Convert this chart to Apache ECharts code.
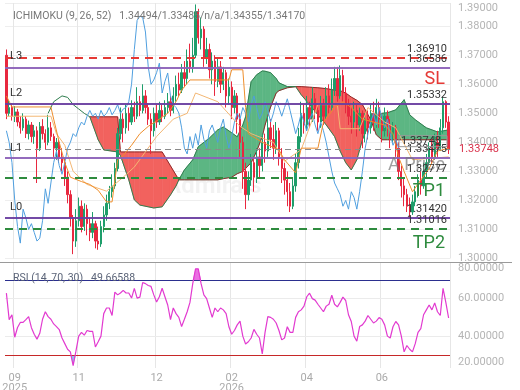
<!DOCTYPE html>
<html>
<head>
<meta charset="utf-8">
<script src="https://cdn.jsdelivr.net/npm/echarts@6/dist/echarts.min.js"></script>
<style>
  html, body { margin: 0; padding: 0; background: #fff; }
  #main { width: 520px; height: 390px; }
</style>
</head>
<body>
<div id="main"></div>
<script>
// all prices are kept in pips above 1.30000
const BASE = 1.3;
const price = v => +(BASE + v / 10000).toFixed(5);

// x axis: candle index -> month label
const tickIdx = [3, 26, 54, 81, 108, 135];
const tickText = ['09\n2025', '11', '12', '02\n2026', '04', '06'];

// candles [open, close, low, high]
const candles = [
  [700,500,480,720],[500,520,490,545],[520,490,475,535],[490,505,470,525],[505,470,455,515],
  [470,450,430,490],[450,480,440,500],[480,430,415,490],[430,460,410,475],[460,420,400,470],
  [420,440,395,460],[440,380,260,455],[380,455,370,470],[455,430,410,480],[430,400,375,445],
  [400,450,390,495],[450,420,405,470],[420,380,350,430],[380,400,340,415],[400,350,330,410],
  [350,330,300,380],[330,280,250,345],[280,220,190,300],[220,140,110,235],[140,60,15,150],
  [60,130,40,170],[130,180,110,210],[180,110,90,200],[110,170,95,190],[170,120,80,185],
  [120,90,60,140],[90,120,70,160],[120,60,35,130],[60,50,30,110],[50,110,40,130],
  [110,150,90,180],[150,190,130,220],[190,230,170,250],[230,250,210,290],[250,310,240,330],
  [310,430,300,450],[430,480,410,520],[480,450,400,500],[450,500,430,530],[500,470,440,520],
  [470,520,460,545],[520,490,470,540],[490,540,480,590],[540,510,490,560],[510,560,500,600],
  [560,520,500,580],[520,480,460,535],[480,440,360,500],[440,500,420,520],[500,470,450,530],
  [470,510,460,540],[510,490,470,530],[490,520,480,545],[520,540,500,570],[540,510,490,560],
  [510,560,500,590],[560,600,540,630],[600,580,560,640],[580,640,570,670],[640,620,590,680],
  [620,680,600,720],[680,660,640,740],[660,700,640,760],[700,850,690,875],[850,760,740,860],
  [760,790,720,830],[790,690,660,800],[690,720,670,760],[720,650,620,740],[650,680,600,710],
  [680,610,560,700],[610,660,590,690],[660,600,570,680],[600,640,580,660],[640,560,520,650],
  [560,590,530,620],[590,520,480,610],[520,560,500,580],[560,480,430,570],[480,400,350,500],
  [400,300,240,420],[300,220,170,330],[220,270,200,300],[270,330,250,360],[330,280,230,350],
  [280,350,260,380],[350,320,280,380],[320,400,300,430],[400,370,330,430],[370,450,350,490],
  [450,410,380,480],[410,380,340,460],[380,440,360,470],[440,350,320,450],[350,310,260,380],
  [310,270,220,330],[270,230,180,300],[230,180,160,260],[180,250,170,280],[250,330,230,360],
  [330,420,310,450],[420,500,400,540],[500,460,430,530],[460,520,440,560],[520,480,450,540],
  [480,550,470,590],[550,510,480,570],[510,470,440,530],[470,530,450,560],[530,490,460,550],
  [490,560,480,590],[560,520,500,600],[520,580,510,620],[580,620,560,660],[620,560,540,660],
  [560,630,550,665],[630,570,540,650],[570,530,500,590],[530,490,460,550],[490,470,430,520],
  [470,510,450,540],[510,460,420,530],[460,500,440,520],[500,430,380,510],[430,480,400,500],
  [480,450,410,510],[450,500,430,530],[500,470,440,540],[470,520,450,550],[520,480,450,540],
  [480,440,400,500],[440,490,420,520],[490,460,420,510],[460,420,380,480],[420,450,400,470],
  [450,380,350,460],[380,300,270,400],[300,250,210,320],[250,220,180,280],[220,180,160,240],
  [180,160,142,210],[160,195,150,220],[195,230,180,250],[230,270,210,290],[270,250,220,300],
  [250,300,240,330],[300,330,280,360],[330,380,320,400],[380,350,330,410],[350,400,340,430],
  [400,380,350,440],[380,450,370,480],[450,540,430,557],[540,470,450,545],[470,375,360,490]
];

// ichimoku lines, [index, pips]
const tenkan = [[0,560],[2,522],[16,522],[17,480],[19,400],[21,330],[23,280],[27,265],[30,255],
  [33,235],[36,195],[38,195],[39,270],[40,340],[42,355],[45,390],[48,430],[51,455],[55,480],
  [58,500],[61,540],[63,580],[66,615],[80,615],[81,650],[85,650],[86,520],[87,430],[92,400],
  [98,374],[100,340],[104,295],[106,380],[112,380],[114,470],[118,520],[121,540],[124,520],
  [128,480],[132,470],[136,460],[139,430],[141,350],[143,300],[146,230],[149,270],[152,310],
  [155,370],[159,380]];
const kijun = [[0,490],[16,490],[18,430],[21,390],[24,300],[29,255],[36,232],[42,280],[46,315],
  [54,420],[60,480],[65,500],[68,570],[76,540],[84,455],[88,430],[96,400],[100,335],[106,375],
  [112,530],[119,530],[120,447],[127,447],[130,520],[136,470],[140,450],[146,340],[159,350]];
// lagging span, one value per candle from the left
const chikou = [
  440,400,330,200,110,53,170,140,100,120,
  90,60,70,130,240,190,260,330,370,320,
  290,330,380,400,430,420,450,470,460,490,
  510,490,500,480,510,490,500,520,495,510,
  530,500,515,520,540,600,720,820,835,830,
  780,660,600,615,640,673,570,610,639,560,
  530,520,501,450,380,360,420,380,430,390,
  460,410,380,440,460,430,400,450,480,420,
  380,420,470,500,480,520,500,470,530,560,
  520,480,500,540,510,470,500,540,520,490,
  520,550,510,470,430,460,500,470,440,480,
  500,460,430,470,440,400,350,300,260,240,
  220,180,200,170,230,210,170,230,300,380,
  430,470,500,460,520,490,450,480,430,390,
  410,380
];
// cloud
const preSpanA = [[15,500],[17,540],[20,560],[22,555],[24,530],[26,515],[28,500]];
const cloudX = [30,33,35,40,41,44,46,48,53,56,59,61,62,64,67,69,73,76,78,81,83,85,86,88,90,92,93,95,97,98,101,104,
  106,109,112,115,118,120,122,124,126,128,131,133,135,137,140,143,145,147,151,155,159];
const spanA = [488,409,374,367,355,271,202,184,174,178,219,250,271,305,340,385,415,443,453,433,419,460,488,609,633,646,645,640,620,605,592,592,
  564,530,495,460,420,370,330,305,340,409,478,492,500,502,512,547,495,478,450,436,443];
const spanB = [488,488,488,488,367,367,367,367,367,367,319,287,271,271,271,271,271,271,275,280,292,300,310,330,370,420,460,522,570,578,588,592,
  592,590,588,585,580,578,570,556,545,530,478,426,409,409,409,409,409,409,409,409,409];

// RSI (14)
const rsi = [
  62.9,48.8,51.4,39.4,44.6,47.3,47.3,48.8,50.4,44.5,
  41,38.4,41.5,49,53,50.4,49,46.5,45.1,43.5,
  39,36,33,31.6,24.3,32,40,42,40.5,43,
  42.5,42.6,34.2,37,40,52,55,55,51,63.5,
  62,63,64.4,63,63,60.3,65.5,60.3,60.8,68.6,
  68,67,66.5,62,58.2,61,65.5,61,56.6,48.8,
  55,52,50,45.1,49,53,58,68,75.9,75.9,
  68,62,60,55,50,55,53,55,54,52,
  45,41,43,46,48,40,35.8,37,39,43.6,
  41,39,30.5,42,50.4,50,49,47,43,38,
  39,45,42,42,50,53,54,56,61,62.9,
  60,59.2,57,55,53,56,57,61.8,57,55.6,
  58,60.8,59,51.4,47.8,40,37.3,45.1,46,48,
  51,49,47,48,49.9,49,46,40,39,45,
  47.8,46,40,31.6,35,33,31.6,36,42,44,
  51.4,54,56.6,54,57.7,53,51,65.5,58,49.66588
];
const rsiTicks = [23, 40, 60, 79];
const rsiTickText = ['20.00000', '40.00000', '60.00000', '80.00000'];

// horizontal levels
const levels = { L3: 1.36910, SL: 1.36586, L2: 1.35332, L1: 1.33748, AP: 1.33475, TP1: 1.32777, L0: 1.31420, TP2: 1.31016 };

const cats = candles.map((c, i) => String(i));
const upColor = '#1e9e6b', downColor = '#e8283f';
const showTick = idx => tickIdx.indexOf(idx) >= 0;

const redDash = { color: '#e53935', type: [8, 6], width: 2 };
const purple = { color: '#8c62b9', type: 'solid', width: 1.5 };
const purpleDark = { color: '#6a3fa0', type: 'solid', width: 1.5 };
const grayDash = { color: '#8a8a8a', type: [6, 4], width: 1 };
const greenDash = { color: '#2e8b3e', type: [8, 6], width: 2 };

function valLabel(v) {
  return { show: true, position: 'insideEndTop', formatter: v.toFixed(5), color: '#333', fontSize: 11, distance: 3 };
}
function tagLabel(text, pos, color, size, offY) {
  return { show: true, position: pos, formatter: text, color: color, fontSize: size, offset: [0, offY || 0] };
}
function lvl(v, style, label) {
  return { yAxis: v, lineStyle: style, label: label };
}

const levelLines = [
  lvl(levels.SL, purple, valLabel(levels.SL)),
  lvl(levels.SL, purple, tagLabel('SL', 'insideEndBottom', '#e53935', 18, -2)),
  lvl(levels.L3, redDash, valLabel(levels.L3)),
  lvl(levels.L3, redDash, tagLabel('L3', 'insideStartTop', '#333', 11, 9)),
  lvl(levels.L2, purpleDark, valLabel(levels.L2)),
  lvl(levels.L2, purpleDark, tagLabel('L2', 'insideStartTop', '#333', 11)),
  lvl(levels.AP, purple, valLabel(levels.AP)),
  lvl(levels.AP, purple, tagLabel('A Price', 'insideEndBottom', 'rgba(120,120,120,0.7)', 18, -6)),
  lvl(levels.L1, grayDash, Object.assign(valLabel(levels.L1), { borderColor: '#999', borderWidth: 1, padding: [0, 6, 0, 2] })),
  lvl(levels.L1, grayDash, tagLabel('L1', 'insideStartTop', '#333', 11, 9)),
  lvl(levels.L1, grayDash, { show: true, position: 'end', formatter: levels.L1.toFixed(5), color: '#d9304a', fontSize: 11, distance: 9 }),
  lvl(levels.TP1, greenDash, valLabel(levels.TP1)),
  lvl(levels.TP1, greenDash, tagLabel('TP1', 'insideEndBottom', '#2e8b3e', 18)),
  lvl(levels.L0, purpleDark, valLabel(levels.L0)),
  lvl(levels.L0, purpleDark, tagLabel('L0', 'insideStartTop', '#333', 11)),
  lvl(levels.TP2, greenDash, valLabel(levels.TP2)),
  lvl(levels.TP2, greenDash, tagLabel('TP2', 'insideEndBottom', '#2e8b3e', 18))
];

const pairs = list => list.map(p => [p[0], price(p[1])]);

let myChart = echarts.init(document.getElementById('main'));
myChart.setOption({
  animation: false,
  textStyle: { fontFamily: 'Roboto, sans-serif' },
  title: [
    { text: 'ICHIMOKU (9, 26, 52)   1.34494/1.33485/n/a/1.34355/1.34170', left: 8, top: 6,
      textStyle: { fontSize: 10.5, color: '#777', fontWeight: 'normal' } },
    { text: 'RSI (14, 70, 30)   49.66588', left: 8, top: 268,
      textStyle: { fontSize: 10.5, color: '#5b6478', fontWeight: 'normal' } }
  ],
  grid: [
    { left: 5, right: 70, top: 3, height: 255.5, outerBoundsMode: 'none' },
    { left: 5, right: 70, top: 263, height: 105, outerBoundsMode: 'none' }
  ],
  xAxis: [
    { type: 'category', gridIndex: 0, data: cats,
      axisLine: { show: false }, axisTick: { show: false }, axisLabel: { show: false },
      splitLine: { show: true, interval: showTick, lineStyle: { color: '#e6e6e6' } } },
    { type: 'category', gridIndex: 1, data: cats,
      axisLine: { show: false }, axisTick: { show: false },
      axisLabel: { interval: showTick, formatter: (v, i) => tickText[tickIdx.indexOf(i)] || '',
        color: '#aaa', fontSize: 11, lineHeight: 10, margin: 5 },
      splitLine: { show: true, interval: showTick, lineStyle: { color: '#e6e6e6' } } }
  ],
  yAxis: [
    { type: 'value', gridIndex: 0, position: 'right', min: 1.30, max: 1.388, interval: 0.01,
      axisLine: { show: false }, axisTick: { show: false },
      axisLabel: { color: '#b5b5b5', fontSize: 11, margin: 8, verticalAlignMaxLabel: 'top',
        formatter: v => (v > 1.385 ? '1.39000' : v.toFixed(5)) },
      splitLine: { lineStyle: { color: '#eeeeee' } } },
    { type: 'value', gridIndex: 1, position: 'right', min: 23, max: 79,
      axisLine: { show: false }, axisTick: { show: false }, splitLine: { show: false },
      axisLabel: { color: '#b5b5b5', fontSize: 11, margin: 8, customValues: rsiTicks,
        showMinLabel: true, showMaxLabel: true,
        formatter: v => rsiTickText[rsiTicks.indexOf(v)] || '',
        verticalAlignMaxLabel: 'top', verticalAlignMinLabel: 'bottom' } }
  ],
  graphic: [
    { type: 'line', shape: { x1: 0, y1: 262.5, x2: 512, y2: 262.5 }, style: { stroke: '#9a9a9a', lineWidth: 1 }, silent: true },
    { type: 'text', left: 165, top: 175, silent: true, z: 0,
      style: { text: 'Admirals', font: 'bold 24px Roboto, sans-serif', fill: 'rgba(0,0,0,0.05)' } }
  ],
  series: [
    {
      name: 'cloud', type: 'custom', xAxisIndex: 0, yAxisIndex: 0, z: 1, silent: true,
      data: cloudX.slice(0, -1).map((x, k) => [x, price(spanA[k]), price(spanB[k])]),
      encode: { x: 0, y: [1, 2] },
      renderItem: function (params, api) {
        const k = params.dataIndex;
        const a0 = api.coord([cloudX[k], price(spanA[k])]);
        const a1 = api.coord([cloudX[k + 1], price(spanA[k + 1])]);
        const b0 = api.coord([cloudX[k], price(spanB[k])]);
        const b1 = api.coord([cloudX[k + 1], price(spanB[k + 1])]);
        const bull = spanA[k] + spanA[k + 1] >= spanB[k] + spanB[k + 1];
        const fill = bull ? '#5cb683' : '#f2625e';
        return { type: 'polygon', shape: { points: [a0, a1, b1, b0] },
          style: { fill: fill, stroke: fill, lineWidth: 0.6 } };
      }
    },
    { name: 'spanB', type: 'line', xAxisIndex: 0, yAxisIndex: 0, z: 2, symbol: 'none', silent: true,
      data: cloudX.map((x, k) => [x, price(spanB[k])]), lineStyle: { color: '#8e2a2a', width: 1 } },
    { name: 'spanA', type: 'line', xAxisIndex: 0, yAxisIndex: 0, z: 2, symbol: 'none', silent: true,
      data: pairs(preSpanA).concat(cloudX.map((x, k) => [x, price(spanA[k])])), lineStyle: { color: '#2f7d4e', width: 1 } },
    {
      name: 'price', type: 'candlestick', xAxisIndex: 0, yAxisIndex: 0, z: 3, barWidth: 1.8,
      data: candles.map(c => c.map(price)),
      itemStyle: { color: upColor, color0: downColor, borderColor: upColor, borderColor0: downColor, borderWidth: 1 },
      markLine: { silent: true, symbol: 'none', precision: 5, animation: false, data: levelLines }
    },
    { name: 'chikou', type: 'line', xAxisIndex: 0, yAxisIndex: 0, z: 4, symbol: 'none', silent: true,
      data: chikou.map(price), lineStyle: { color: '#4f9fdf', width: 1 } },
    { name: 'kijun', type: 'line', xAxisIndex: 0, yAxisIndex: 0, z: 4, symbol: 'none', silent: true,
      data: pairs(kijun), lineStyle: { color: '#f3b774', width: 1 } },
    { name: 'tenkan', type: 'line', xAxisIndex: 0, yAxisIndex: 0, z: 4, symbol: 'none', silent: true,
      data: pairs(tenkan), lineStyle: { color: '#ee8e2c', width: 1 } },
    // RSI panel: fills beyond 70 / 30 as stacked bands
    { type: 'line', xAxisIndex: 1, yAxisIndex: 1, stack: 'hi', symbol: 'none', silent: true,
      data: rsi.map(() => 70), lineStyle: { width: 0 } },
    { type: 'line', xAxisIndex: 1, yAxisIndex: 1, stack: 'hi', symbol: 'none', silent: true,
      data: rsi.map(v => Math.max(v - 70, 0)), lineStyle: { width: 0 }, areaStyle: { color: '#ea6fe2', opacity: 1 } },
    { type: 'line', xAxisIndex: 1, yAxisIndex: 1, stack: 'lo', symbol: 'none', silent: true,
      data: rsi.map(v => Math.min(v, 30)), lineStyle: { width: 0 } },
    { type: 'line', xAxisIndex: 1, yAxisIndex: 1, stack: 'lo', symbol: 'none', silent: true,
      data: rsi.map(v => 30 - Math.min(v, 30)), lineStyle: { width: 0 }, areaStyle: { color: '#8ec3ee', opacity: 1 } },
    {
      name: 'RSI', type: 'line', xAxisIndex: 1, yAxisIndex: 1, z: 5, symbol: 'none', silent: true,
      data: rsi, lineStyle: { color: '#e23ad0', width: 1.2 },
      markLine: { silent: true, symbol: 'none', label: { show: false }, animation: false, data: [
        { yAxis: 60, lineStyle: { color: '#ebebeb', width: 1, type: 'solid' } },
        { yAxis: 40, lineStyle: { color: '#ebebeb', width: 1, type: 'solid' } },
        { yAxis: 70, lineStyle: { color: '#2b2f8f', width: 1.2, type: 'solid' } },
        { yAxis: 30, lineStyle: { color: '#c62828', width: 1.2, type: 'solid' } }
      ] }
    }
  ]
});
</script>
</body>
</html>
